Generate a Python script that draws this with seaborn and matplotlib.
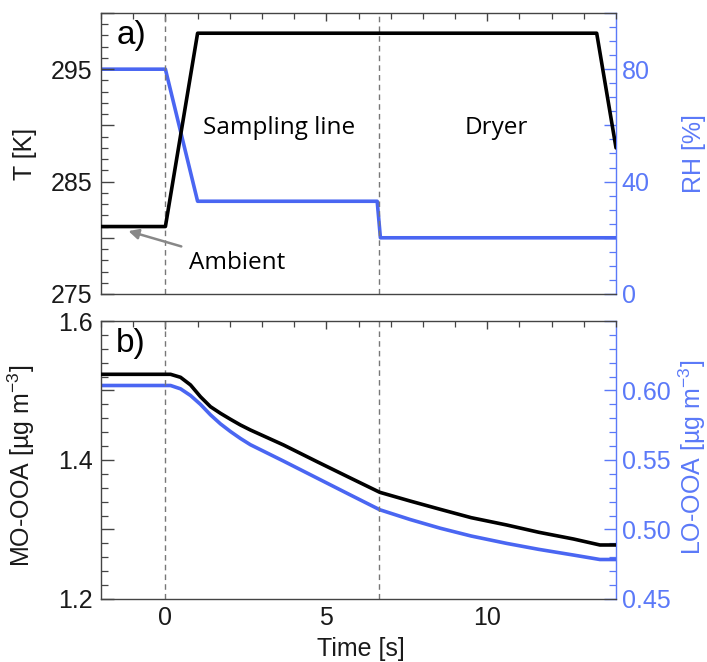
import numpy as np
import pandas as pd
import matplotlib
matplotlib.use("Agg")
import matplotlib.pyplot as plt
import seaborn as sns
from matplotlib.ticker import MultipleLocator, FuncFormatter

# ---- data ----
t_temp = [-2.0, 0.0, 1.0, 13.4, 14.0]
temp_K = [281.0, 281.0, 298.2, 298.2, 288.0]

t_rh = [-2.0, 0.0, 1.0, 6.58, 6.68, 14.0]
rh_pct = [80.0, 80.0, 33.0, 33.0, 20.0, 20.0]

t_ooa = [-2.0, 0.0, 0.16, 0.47, 0.78, 1.09, 1.40, 1.71, 2.02, 2.33, 2.64, 3.67,
         4.71, 5.75, 6.66, 7.6, 8.54, 9.5, 10.6, 11.6, 12.68, 13.5, 14.0]
mo_ooa = [1.5233, 1.5233, 1.5233, 1.519, 1.508, 1.491, 1.4767, 1.4672, 1.4586,
          1.4504, 1.4432, 1.4216, 1.3976, 1.374, 1.3535, 1.341, 1.329, 1.317,
          1.3065, 1.296, 1.2863, 1.2777, 1.2777]
lo_ooa = [0.6036, 0.6036, 0.6036, 0.6012, 0.5964, 0.5900, 0.5825, 0.5760, 0.5705,
          0.5655, 0.5610, 0.5492, 0.5370, 0.5248, 0.5142, 0.5072, 0.5009, 0.4953,
          0.4900, 0.4857, 0.4816, 0.4784, 0.4784]

vlines_t = [0.0, 6.65]

BLUE = "#4a66f2"
AXBLUE = "#5b79f8"
SPINE = "#444444"
TXT = "#1a1a1a"
TICKFONT = "Liberation Sans"
TEXTFONT = "Open Sans"

sns.set_theme(style="white")
plt.rcParams["font.family"] = [TICKFONT, "DejaVu Sans"]
plt.rcParams["mathtext.fontset"] = "custom"
plt.rcParams["mathtext.rm"] = TICKFONT
plt.rcParams["mathtext.it"] = TICKFONT + ":italic"
plt.rcParams["mathtext.bf"] = TICKFONT + ":bold"
plt.rcParams["axes.unicode_minus"] = False

fig = plt.figure(figsize=(7.07, 6.62), dpi=100)
ax1 = fig.add_axes([0.1429, 0.5559, 0.8713 - 0.1429, 0.9804 - 0.5559])
ax2 = fig.add_axes([0.1429, 0.0952, 0.8713 - 0.1429, 0.5151 - 0.0952])
ax1r = ax1.twinx()
ax2r = ax2.twinx()

df_t = pd.DataFrame({"t": t_temp, "v": temp_K})
df_rh = pd.DataFrame({"t": t_rh, "v": rh_pct})
df_mo = pd.DataFrame({"t": t_ooa, "v": mo_ooa})
df_lo = pd.DataFrame({"t": t_ooa, "v": lo_ooa})

lw = 2.6
for ax in (ax1, ax2):
    for tv in vlines_t:
        ax.axvline(tv, color="#777777", ls=(0, (4, 3)), lw=1.0, zorder=1)

sns.lineplot(data=df_rh, x="t", y="v", ax=ax1r, color=BLUE, lw=lw, zorder=3)
sns.lineplot(data=df_t, x="t", y="v", ax=ax1, color="black", lw=lw, zorder=4)
sns.lineplot(data=df_lo, x="t", y="v", ax=ax2r, color=BLUE, lw=lw, zorder=3)
sns.lineplot(data=df_mo, x="t", y="v", ax=ax2, color="black", lw=lw, zorder=4)

ax1.set_zorder(ax1r.get_zorder() + 1)
ax1.patch.set_visible(False)
ax2.set_zorder(ax2r.get_zorder() + 1)
ax2.patch.set_visible(False)

ax1.set_xlim(-2, 14)
ax2.set_xlim(-2, 14)
ax1.set_ylim(275, 300)
ax1r.set_ylim(0, 100)
ax2.set_ylim(1.2, 1.6)
ax2r.set_ylim(0.45, 0.65)

tick_fs = 18
for ax in (ax1, ax2):
    ax.xaxis.set_major_locator(MultipleLocator(5))
    ax.xaxis.set_minor_locator(MultipleLocator(1))
    ax.tick_params(axis="both", which="both", direction="in", top=True,
                   right=False, color=SPINE, labelsize=tick_fs, labelcolor=TXT)
    ax.tick_params(axis="y", which="major", length=9, width=1.0, pad=6)
    ax.tick_params(axis="y", which="minor", length=5, width=0.9)
    ax.tick_params(axis="x", which="major", length=6, width=1.0, pad=5)
    ax.tick_params(axis="x", which="minor", length=4, width=0.9)
    for s in ("left", "top", "bottom"):
        ax.spines[s].set_color(SPINE)
        ax.spines[s].set_linewidth(1.0)
    ax.spines["right"].set_visible(False)
    ax.set_xlabel("")
    ax.set_ylabel("")


def every_other(fmt, labels):
    def f(v, pos):
        for lv in labels:
            if abs(v - lv) < 1e-6:
                return fmt % v
        return ""
    return FuncFormatter(f)


ax1.yaxis.set_major_locator(MultipleLocator(5))
ax1.yaxis.set_minor_locator(MultipleLocator(1))
ax1.yaxis.set_major_formatter(every_other("%d", [275, 285, 295]))
ax1.tick_params(axis="x", labelbottom=False)

ax2.yaxis.set_major_locator(MultipleLocator(0.1))
ax2.yaxis.set_minor_locator(MultipleLocator(0.02))
ax2.yaxis.set_major_formatter(every_other("%.1f", [1.2, 1.4, 1.6]))

for axr in (ax1r, ax2r):
    for s in ("left", "top", "bottom"):
        axr.spines[s].set_visible(False)
    axr.spines["right"].set_color(AXBLUE)
    axr.spines["right"].set_linewidth(1.0)
    axr.tick_params(axis="y", which="both", direction="in", color=AXBLUE,
                    labelcolor=AXBLUE, labelsize=tick_fs, left=False, right=True)
    axr.tick_params(which="major", length=9, width=1.0, pad=4)
    axr.tick_params(which="minor", length=5, width=0.9)
    axr.set_xlabel("")
    axr.set_ylabel("")

ax1r.yaxis.set_major_locator(MultipleLocator(20))
ax1r.yaxis.set_minor_locator(MultipleLocator(5))
ax1r.yaxis.set_major_formatter(every_other("%d", [0, 40, 80]))
ax2r.yaxis.set_major_locator(MultipleLocator(0.05))
ax2r.yaxis.set_minor_locator(MultipleLocator(0.01))
ax2r.yaxis.set_major_formatter(every_other("%.2f", [0.45, 0.50, 0.55, 0.60]))

lab_fs = 18
ax1.set_ylabel("T [K]", fontsize=lab_fs, color=TXT)
ax1r.set_ylabel("RH [%]", fontsize=lab_fs, color=AXBLUE)
ax2.set_ylabel("MO-OOA [µg m$^{-3}$]", fontsize=lab_fs, color=TXT)
ax2r.set_ylabel("LO-OOA [µg m$^{-3}$]", fontsize=lab_fs, color=AXBLUE)
ax2.set_xlabel("Time [s]", fontsize=lab_fs, color=TXT)
ax1.yaxis.set_label_coords(-0.124, 0.5)
ax2.yaxis.set_label_coords(-0.124, 0.48)
ax1r.yaxis.set_label_coords(1.128, 0.5)
ax2r.yaxis.set_label_coords(1.117, 0.51)
ax2.xaxis.set_label_coords(0.505, -0.135)

# annotations
ax1.text(-1.5, 298.0, "a)", fontsize=24, ha="left", va="center", color="black")
ax2.text(-1.55, 1.568, "b)", fontsize=24, ha="left", va="center", color="black")
ax1.text(3.52, 289.8, "Sampling line", fontsize=17.5, family=[TEXTFONT, "DejaVu Sans"],
         ha="center", va="center", color="black")
ax1.text(10.27, 289.8, "Dryer", fontsize=17.5, family=[TEXTFONT, "DejaVu Sans"],
         ha="center", va="center", color="black")
ax1.annotate("Ambient", xy=(-1.15, 280.6), xytext=(0.72, 277.8),
             fontsize=17.5, family=[TEXTFONT, "DejaVu Sans"], ha="left", va="center",
             color="black",
             arrowprops=dict(arrowstyle="-|>", color="#888888", lw=1.8,
                             mutation_scale=15, shrinkA=3, shrinkB=0))

fig.savefig("out.png", dpi=100)
